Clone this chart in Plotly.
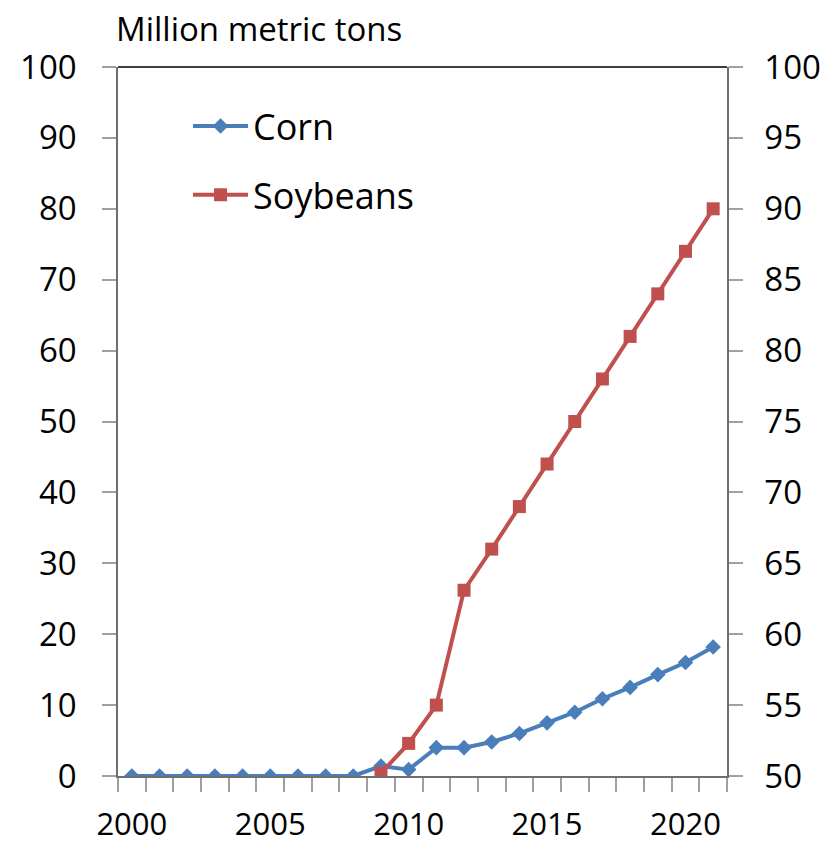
import plotly.graph_objects as go

# Annual volumes, million metric tons
years = list(range(2000, 2022))
corn = [0.0, 0.0, 0.0, 0.0, 0.0, 0.0, 0.0, 0.0, 0.0, 1.4, 0.9, 4.0, 4.0, 4.8,
        6.0, 7.5, 9.0, 10.9, 12.5, 14.3, 16.0, 18.2]
soy_years = list(range(2009, 2022))
soybeans = [50.2, 52.3, 55.0, 63.1, 66.0, 69.0, 72.0, 75.0, 78.0, 81.0, 84.0, 87.0, 90.0]

left_ticks = list(range(0, 101, 10))
right_ticks = list(range(50, 101, 5))
x_label_years = [2000, 2005, 2010, 2015, 2020]

FONT = "Open Sans"
BLUE = "#4A7EBB"
RED = "#C0504D"
AXIS_GREY = "#6E6E6E"
TICK_GREY = "#A0A0A0"

fig = go.Figure()
fig.add_trace(go.Scatter(
    x=years, y=corn, name="Corn", mode="lines+markers",
    line=dict(color=BLUE, width=4),
    marker=dict(symbol="diamond", size=12, color=BLUE),
    legendgroup="a", yaxis="y",
))
fig.add_trace(go.Scatter(
    x=soy_years, y=soybeans, name="Soybeans", mode="lines+markers",
    line=dict(color=RED, width=4),
    marker=dict(symbol="square", size=13, color=RED),
    legendgroup="b", yaxis="y2",
))

fig.update_layout(
    width=831, height=852,
    margin=dict(l=118, r=104, t=67, b=76),
    paper_bgcolor="white", plot_bgcolor="white",
    font=dict(family=FONT, size=32, color="black"),
    showlegend=True,
    legend=dict(
        x=0.115, y=0.959, xanchor="left", yanchor="top",
        font=dict(family=FONT, size=36, color="black"),
        bgcolor="rgba(0,0,0,0)", traceorder="grouped", tracegroupgap=19,
        itemwidth=55,
    ),
    xaxis=dict(
        range=[1999.5, 2021.5], showgrid=False, zeroline=False, automargin=False,
        showline=True, linecolor=AXIS_GREY, linewidth=1.5,
        tickmode="array", tickvals=x_label_years,
        ticktext=[str(v) for v in x_label_years],
        ticks="", ticklabelstandoff=20,
        tickfont=dict(family=FONT, size=31),
        minor=dict(ticks="outside", tick0=1999.5, dtick=1, ticklen=14,
                   tickcolor=TICK_GREY, tickwidth=1.5, showgrid=False),
    ),
    yaxis=dict(
        range=[0, 100], tickvals=left_ticks, showgrid=False, zeroline=False,
        automargin=False,
        showline=True, linecolor=AXIS_GREY, linewidth=1.5,
        ticks="outside", ticklen=14, tickcolor=TICK_GREY, tickwidth=1.5,
        ticklabelstandoff=19, tickfont=dict(family=FONT, size=33),
    ),
    yaxis2=dict(
        range=[50, 100], tickvals=right_ticks, overlaying="y", side="right",
        showgrid=False, zeroline=False, automargin=False,
        showline=True, linecolor=AXIS_GREY, linewidth=1.5,
        ticks="outside", ticklen=14, tickcolor=TICK_GREY, tickwidth=1.5,
        ticklabelstandoff=15, tickfont=dict(family=FONT, size=33),
    ),
    shapes=[dict(type="line", xref="paper", yref="paper", x0=0, x1=1, y0=1, y1=1,
                 line=dict(color="black", width=1.5))],
    annotations=[dict(
        text="Million metric tons", xref="paper", yref="paper",
        x=-0.006, y=1.055, xanchor="left", yanchor="middle", showarrow=False,
        font=dict(family=FONT, size=33, color="black"),
    )],
)

fig.write_html("out.html")
